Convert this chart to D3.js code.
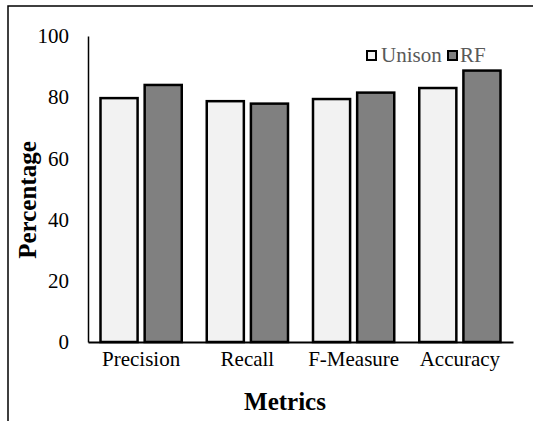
<!DOCTYPE html>
<html><head><meta charset="utf-8">
<script src="https://cdn.jsdelivr.net/npm/d3@7"></script>
<style>body{margin:0;background:#fff}svg{display:block}
svg text{font-family:"Liberation Serif","Times New Roman",Times,"DejaVu Serif",serif !important;}</style>
</head><body>
<script>
const categories = ["Precision", "Recall", "F-Measure", "Accuracy"];
const seriesNames = ["Unison", "RF"];
const unison = [79.7, 78.7, 79.4, 83.0];
const rf = [84.0, 77.9, 81.5, 88.7];
const yTicks = [0, 20, 40, 60, 80, 100];
const colors = ["#f2f2f2", "#808080"];

const W = 533, H = 421;
const svg = d3.select("body").append("svg").attr("width", W).attr("height", H);

// frame
svg.append("rect").attr("x", 8).attr("y", 6).attr("width", 600).attr("height", 500)
  .attr("fill", "none").attr("stroke", "#000").attr("stroke-width", 1.5);

const x0 = d3.scaleBand().domain(categories).range([88, 513]).paddingInner(0).paddingOuter(0);
const x1 = d3.scaleBand().domain(seriesNames).range([12.5, x0.bandwidth() - 12.5]).paddingInner(0.16);
const y = d3.scaleLinear().domain([0, 100]).range([342, 36]);

const data = categories.map((c, i) => ({c, vals: [unison[i], rf[i]]}));

const g = svg.append("g");
g.selectAll("g.grp").data(data).join("g").attr("class", "grp")
  .attr("transform", d => `translate(${x0(d.c)},0)`)
  .selectAll("rect").data(d => d.vals.map((v, j) => ({v, s: seriesNames[j], j})))
  .join("rect")
  .attr("x", d => x1(d.s)).attr("width", x1.bandwidth())
  .attr("y", d => y(d.v)).attr("height", d => y(0) - y(d.v))
  .attr("fill", d => colors[d.j]).attr("stroke", "#000").attr("stroke-width", 2.5);

// y axis
const yAxis = d3.axisLeft(y).tickValues(yTicks).tickSize(0).tickPadding(19);
const ya = svg.append("g").attr("transform", "translate(88,0)").call(yAxis);
ya.attr("font-size", null).attr("font-family", null);
ya.select(".domain").attr("stroke", "#000").attr("stroke-width", 1.5);
ya.selectAll("text").style("font-size", "21px").attr("fill", "#000");

// x axis
const xAxis = d3.axisBottom(x0).tickSize(0).tickPadding(9);
const xa = svg.append("g").attr("transform", "translate(0,342)").call(xAxis);
xa.attr("font-size", null).attr("font-family", null);
xa.select(".domain").attr("stroke", "#000").attr("stroke-width", 2);
xa.selectAll("text").style("font-size", "21px").attr("fill", "#000");

// titles
svg.append("text").attr("x", 285).attr("y", 410).attr("text-anchor", "middle")
  .style("font-weight", "bold").style("font-size", "25px").text("Metrics");
svg.append("text").attr("transform", "translate(36,200) rotate(-90)").attr("text-anchor", "middle")
  .style("font-weight", "bold").style("font-size", "25px").text("Percentage");

// legend
const leg = [{n: "Unison", sx: 367, tx: 381}, {n: "RF", sx: 448, tx: 460}];
leg.forEach((l, i) => {
  svg.append("rect").attr("x", l.sx).attr("y", 51).attr("width", 9).attr("height", 9)
    .attr("fill", colors[i]).attr("stroke", "#000").attr("stroke-width", 2);
  svg.append("text").attr("x", l.tx).attr("y", 62)
    .style("font-size", "21px").attr("fill", "#595959").text(l.n);
});
</script>
</body></html>
